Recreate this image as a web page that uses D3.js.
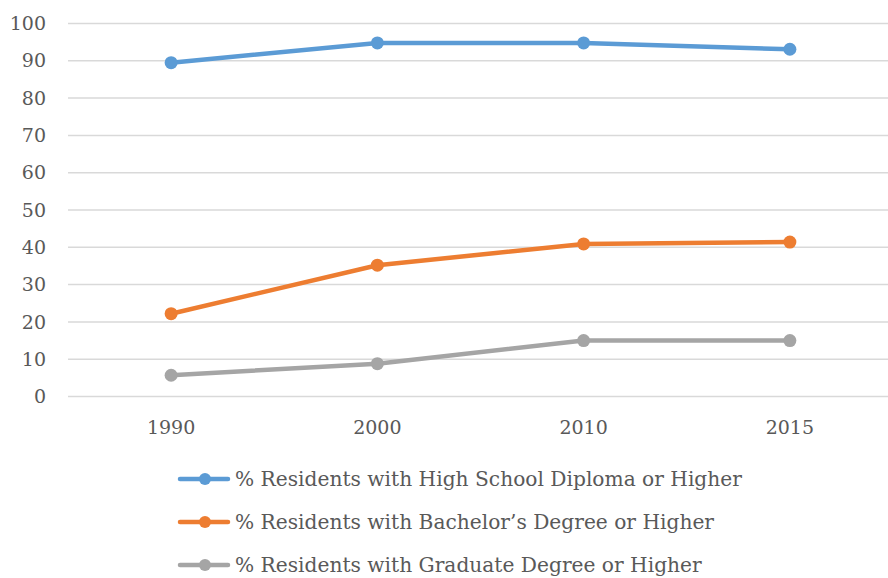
<!DOCTYPE html>
<html>
<head>
<meta charset="utf-8">
<script src="https://cdn.jsdelivr.net/npm/d3@7"></script>
<style>
  body { margin: 0; background: #fff; }
  text { font-family: "DejaVu Serif", "Liberation Serif", serif; fill: #595959; }
</style>
</head>
<body>
<svg id="chart"></svg>
<script>
// Data
const years = ["1990", "2000", "2010", "2015"];
const highSchool = [89.5, 94.8, 94.8, 93.1];
const bachelor = [22.2, 35.2, 40.9, 41.4];
const graduate = [5.7, 8.8, 15.0, 15.0];
const seriesNames = [
  "% Residents with High School Diploma or Higher",
  "% Residents with Bachelor\u2019s Degree or Higher",
  "% Residents with Graduate Degree or Higher"
];
const seriesColors = ["#5B9BD5", "#ED7D31", "#A5A5A5"];
const yTicks = d3.range(0, 101, 10);

const width = 888;
const height = 578;

const svg = d3.select("#chart").attr("width", width).attr("height", height);

// Plot area
const plotLeft = 68;
const plotRight = 893;
const plotTop = 23.5;
const plotBottom = 396.5;

const x = d3.scalePoint().domain(years).range([plotLeft, plotRight]).padding(0.5);
const y = d3.scaleLinear().domain([0, 100]).range([plotBottom, plotTop]);

// Gridlines
svg.append("g")
  .selectAll("line")
  .data(yTicks)
  .join("line")
  .attr("x1", plotLeft)
  .attr("x2", width)
  .attr("y1", d => y(d))
  .attr("y2", d => y(d))
  .attr("stroke", "#D9D9D9")
  .attr("stroke-width", 1.5);

// Y tick labels
svg.append("g")
  .selectAll("text")
  .data(yTicks)
  .join("text")
  .attr("x", 46)
  .attr("y", d => y(d))
  .attr("dy", "0.35em")
  .attr("text-anchor", "end")
  .attr("font-size", 19)
  .text(d => d);

// X labels
svg.append("g")
  .selectAll("text")
  .data(years)
  .join("text")
  .attr("x", d => x(d))
  .attr("y", 434)
  .attr("text-anchor", "middle")
  .attr("font-size", 19)
  .text(d => d);

const allSeries = [highSchool, bachelor, graduate].map((vals, i) => ({
  name: seriesNames[i],
  color: seriesColors[i],
  values: vals.map((v, j) => ({ year: years[j], value: v }))
}));

const line = d3.line()
  .x(d => x(d.year))
  .y(d => y(d.value));

const groups = svg.append("g")
  .selectAll("g")
  .data(allSeries)
  .join("g");

groups.append("path")
  .attr("d", d => line(d.values))
  .attr("fill", "none")
  .attr("stroke", d => d.color)
  .attr("stroke-width", 4.5)
  .attr("stroke-linejoin", "round");

groups.selectAll("circle")
  .data(d => d.values.map(v => ({ ...v, color: d.color })))
  .join("circle")
  .attr("cx", d => x(d.year))
  .attr("cy", d => y(d.value))
  .attr("r", 6.5)
  .attr("fill", d => d.color);

// Legend
const legend = svg.append("g")
  .selectAll("g")
  .data(allSeries)
  .join("g")
  .attr("transform", (d, i) => `translate(0, ${479 + i * 43})`);

legend.append("line")
  .attr("x1", 180)
  .attr("x2", 228)
  .attr("stroke", d => d.color)
  .attr("stroke-width", 4.5)
  .attr("stroke-linecap", "round");

legend.append("circle")
  .attr("cx", 205)
  .attr("r", 6)
  .attr("fill", d => d.color);

legend.append("text")
  .attr("x", 235)
  .attr("dy", "0.35em")
  .attr("font-size", 20.2)
  .text(d => d.name);
</script>
</body>
</html>
